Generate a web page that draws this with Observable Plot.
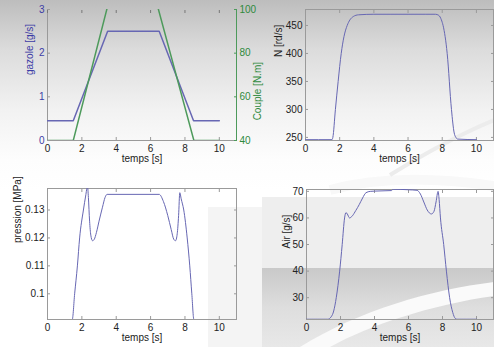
<!DOCTYPE html>
<html><head><meta charset="utf-8">
<script src="https://cdn.jsdelivr.net/npm/d3@7"></script>
<script src="https://cdn.jsdelivr.net/npm/@observablehq/plot@0.6"></script>
<style>
html,body{margin:0;padding:0;background:#fff;}
#wrap{position:relative;width:494px;height:347px;overflow:hidden;
 background:linear-gradient(to bottom,#bdbdbd 0px,#dcdcdc 50px,#f2f2f2 110px,#fdfdfd 160px,#fff 190px);}
.bg{position:absolute;}
#wrap svg.p{position:absolute;overflow:visible;}
</style></head><body>
<div id="wrap">
 <div class="bg" style="left:208px;top:207px;width:286px;height:140px;background:#f4f4f4"></div>
 <div class="bg" style="left:262px;top:197px;width:232px;height:150px;background:#eeeeee"></div>
 <div class="bg" style="left:262px;top:268px;width:232px;height:79px;background:linear-gradient(to bottom,#c9c9c9,#dedede 40px,#e8e8e8)"></div>
 <svg class="bg" width="494" height="347" style="left:0;top:0">
  <path d="M300,347 C360,310 430,290 494,282 L494,296 C430,305 370,325 330,347 Z" fill="#fafafa"/>
  <path d="M330,190 C380,176 440,178 494,186" stroke="#f8f8f8" stroke-width="10" fill="none"/>
  <path d="M390,175 C430,150 470,130 494,120" stroke="#ececec" stroke-width="4" fill="none"/>
 </svg>
</div>
<script>
// ---- data ----
const gazoleT = [0, 1.5, 3.5, 6.5, 8.5, 10];
const gazoleV = [0.45, 0.45, 2.5, 2.5, 0.45, 0.45];
const coupleT = [0, 1.5, 3.58, 6.32, 8.52, 10];
const coupleV = [40, 40, 104, 104, 40, 40];
const nT = [0,1.55,1.6,1.75,1.91,2.09,2.25,2.44,2.6,2.8,3.1,4,5,6,7,7.6,7.8,7.95,8.05,8.29,8.54,8.7,8.8,8.9,10];
const nV = [246,246,250,300,350,400,430,450,460,466,469,470,470,470,470,470,468,460,450,400,300,258,250,247,246];
const pT = [0,1.44,1.58,1.74,1.87,2.09,2.22,2.33,2.38,2.45,2.52,2.62,2.72,2.85,3.0,3.2,3.35,3.47,6.5,6.75,7.0,7.2,7.35,7.45,7.55,7.63,7.7,7.78,7.93,8.13,8.28,8.4,8.52,10];
const pV = [0.0908,0.0908,0.1,0.11,0.12,0.13,0.135,0.1385,0.1345,0.126,0.121,0.119,0.1195,0.122,0.126,0.131,0.1345,0.1356,0.1356,0.133,0.128,0.123,0.1195,0.119,0.1215,0.128,0.1362,0.134,0.13,0.12,0.11,0.1,0.0908,0.0908];
const airT = [0,1.25,1.45,1.6,1.75,1.95,2.1,2.24,2.32,2.4,2.53,2.7,2.9,3.1,3.3,3.5,3.75,4,5,5.05,5.1,6,6.5,6.7,6.9,7.1,7.35,7.5,7.62,7.74,7.8,7.88,8.07,8.23,8.42,8.6,8.75,8.85,10];
const airV = [21.9,21.9,22.8,25,30,40,50,60,62,61.5,60,60.8,62.8,65,67.5,69.5,70,70.1,70.3,70.6,70.8,70.6,70.4,69,66,63,61.5,62.5,66,70,67,60,50,40,30,24.5,22.2,21.9,21.9];
const xTicks = [0, 2, 4, 6, 8, 10];
const gazoleTicks = [0, 1, 2, 3];
const coupleTicks = [40, 60, 80, 100];
const nTicks = [250, 300, 350, 400, 450];
const pTicks = [0.1, 0.11, 0.12, 0.13];
const airTicks = [30, 40, 50, 60, 70];
const xLabel = "temps [s]";

const BLUE_LINE = "#6767b3", BLUE_TXT = "#3c3ca6", GREEN_LINE = "#4d9a5b", GREEN_TXT = "#2f8a3c";
const FRAME = "#9a9a9a", TXT = "#222";
const zip = (t, v) => t.map((x, i) => ({t: x, v: v[i]}));
const wrap = document.getElementById("wrap");

function place(svg, left, top) {
  svg.classList.add("p");
  svg.style.left = left + "px";
  svg.style.top = top + "px";
  wrap.appendChild(svg);
}
const baseStyle = {background: "transparent", fontFamily: "'Liberation Sans', Arial, sans-serif", fontSize: "10px", color: TXT, overflow: "visible"};

function panel({left, top, width, height, ml, mr, mt, mb, ydom, yticks, data, ylabel, ldx, ldy, curve, yfmt}) {
  const svg = Plot.plot({
    width, height, marginLeft: ml, marginRight: mr, marginTop: mt, marginBottom: mb,
    style: baseStyle,
    x: {domain: [0, 11], label: null},
    y: {domain: ydom, label: null},
    marks: [
      Plot.frame({stroke: FRAME}),
      Plot.axisX(xTicks, {tickSize: 3, dy: -3, tickFormat: () => "", stroke: FRAME}),
      Plot.axisX(xTicks, {anchor: "top", tickSize: 3, dy: 3, tickFormat: () => "", stroke: FRAME}),
      Plot.axisX(xTicks, {tickSize: 0, tickPadding: 4, fill: TXT}),
      Plot.axisY(yticks, {tickSize: 3, dx: 3, tickFormat: () => "", stroke: FRAME}),
      Plot.axisY(yticks, {anchor: "right", tickSize: 3, dx: -3, tickFormat: () => "", stroke: FRAME}),
      Plot.axisY(yticks, {tickSize: 0, tickPadding: 3, fill: TXT, tickFormat: yfmt || (d => String(d))}),
      Plot.line(data, {x: "t", y: "v", stroke: BLUE_LINE, strokeWidth: 1, curve: curve || "linear", clip: true}),
      Plot.text([xLabel], {frameAnchor: "bottom", dy: 21, fill: TXT}),
      Plot.text([ylabel], {frameAnchor: "left", rotate: -90, dx: ldx, dy: ldy, fill: TXT})
    ]
  });
  place(svg, left, top);
}

// ---- panel 1 (two y axes) ----
const p1 = Plot.plot({
  width: 250, height: 175, marginLeft: 47, marginRight: 14, marginTop: 9, marginBottom: 35,
  style: baseStyle,
  x: {domain: [0, 11], label: null},
  y: {domain: [0, 3], label: null},
  marks: [
    Plot.ruleX([0], {stroke: FRAME}),
    Plot.ruleY([0], {stroke: FRAME}),
    Plot.axisX(xTicks, {tickSize: 3, dy: -3, tickFormat: () => "", stroke: FRAME}),
    Plot.axisX(xTicks, {anchor: "top", tickSize: 3, dy: 3, tickFormat: () => "", stroke: "#777"}),
    Plot.axisX(xTicks, {tickSize: 0, tickPadding: 4, fill: TXT}),
    Plot.axisY(gazoleTicks, {tickSize: 3, dx: 3, tickFormat: () => "", stroke: FRAME}),
    Plot.axisY(gazoleTicks, {tickSize: 0, tickPadding: 3, fill: BLUE_TXT}),
    Plot.line(zip(gazoleT, gazoleV), {x: "t", y: "v", stroke: BLUE_LINE, clip: true}),
    Plot.text([xLabel], {frameAnchor: "bottom", dy: 21, fill: TXT}),
    Plot.text(["gazole [g/s]"], {frameAnchor: "left", rotate: -90, dx: -18, dy: 0, fill: BLUE_TXT})
  ]
});
place(p1, 0, 0);
const p1b = Plot.plot({
  width: 250, height: 175, marginLeft: 47, marginRight: 14, marginTop: 9, marginBottom: 35,
  style: baseStyle,
  x: {domain: [0, 11], label: null, axis: null},
  y: {domain: [40, 100], label: null, axis: null},
  marks: [
    Plot.ruleX([11], {stroke: GREEN_LINE}),
    Plot.axisY(coupleTicks, {anchor: "right", tickSize: 3, dx: -3, tickFormat: () => "", stroke: GREEN_LINE}),
    Plot.axisY(coupleTicks, {anchor: "right", tickSize: 0, tickPadding: 3, fill: GREEN_TXT}),
    Plot.line(zip(coupleT, coupleV), {x: "t", y: "v", stroke: GREEN_LINE, clip: true}),
    Plot.text(["Couple [N.m]"], {frameAnchor: "right", rotate: -90, dx: 21, dy: -13, fill: GREEN_TXT})
  ]
});
place(p1b, 0, 0);

panel({left: 250, top: 0, width: 244, height: 175, ml: 55, mr: 1, mt: 9, mb: 35,
  ydom: [244.5, 478.5], yticks: nTicks, data: zip(nT, nV), ylabel: "N [rd/s]", ldx: -27, ldy: -18, curve: "monotone-x"});
panel({left: 0, top: 175, width: 250, height: 172, ml: 47, mr: 14, mt: 13, mb: 28,
  ydom: [0.0908, 0.1377], yticks: pTicks, data: zip(pT, pV), ylabel: "pression [MPa]", ldx: -30, ldy: -11, curve: "monotone-x"});
panel({left: 250, top: 175, width: 244, height: 172, ml: 56, mr: 1, mt: 14, mb: 28,
  ydom: [21.8, 70.7], yticks: airTicks, data: zip(airT, airV), ylabel: "Air [g/s]", ldx: -20, ldy: -6, curve: "monotone-x"});
</script>
</body></html>
